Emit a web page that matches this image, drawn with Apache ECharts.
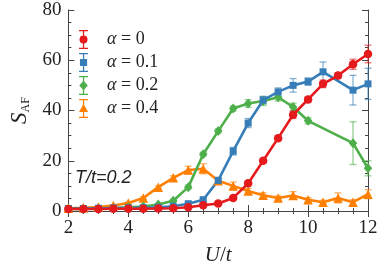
<!DOCTYPE html>
<html><head><meta charset="utf-8">
<script src="https://cdn.jsdelivr.net/npm/echarts@6/dist/echarts.min.js"></script>
<style>html,body{margin:0;padding:0;background:#fff}#c{width:381px;height:271px}</style>
</head><body><div id="c"></div>
<script>
// ---- data ----
const U = [2,2.5,3,3.5,4,4.5,5,5.5,6,6.5,7,7.5,8,8.5,9,9.5,10,10.5,11,11.5,12];
const alphaLabels = ['0','0.1','0.2','0.4'];
const s_a0  = [0.8,0.8,0.8,0.9,0.9,0.9,1.0,1.1,1.5,2.3,3.0,5.2,11.0,20.0,29.0,38.3,44.4,50.6,53.9,58.4,62.5];
const e_a0  = [0.2,0.2,0.2,0.2,0.2,0.2,0.2,0.3,0.3,0.4,0.5,0.6,0.8,0.8,0.8,1.5,1.0,1.5,1.2,2.0,3.5];
const s_a01 = [1.0,1.0,1.1,1.2,1.3,1.3,1.5,1.9,2.9,4.5,12.2,23.8,35.0,44.1,47.4,50.0,51.5,55.4,null,48.1,50.6];
const e_a01 = [0.2,0.2,0.2,0.2,0.2,0.2,0.3,0.3,0.4,0.6,0.8,1.5,1.8,1.5,1.6,2.7,1.5,3.9,null,5.9,6.2];
const s_a02 = [0.8,0.8,1.0,1.1,1.5,1.8,2.6,4.1,9.5,22.6,31.8,40.8,42.8,43.8,45.3,41.4,35.9,null,null,27.0,17.0];
const e_a02 = [0.2,0.2,0.2,0.2,0.2,0.3,0.3,0.5,0.8,0.8,0.8,1.0,1.5,1.8,1.5,1.5,1.2,null,null,8.5,3.0];
const s_a04 = [1.1,1.3,1.6,2.2,3.2,5.2,9.5,13.2,16.3,16.8,12.0,10.0,8.0,6.3,5.2,6.2,4.5,3.5,5.2,3.5,6.7];
const e_a04 = [0.2,0.2,0.2,0.3,0.3,0.5,0.5,0.8,1.5,2.0,0.8,1.5,1.0,1.0,0.8,1.5,0.8,0.8,2.0,1.0,1.8];
const yTicks = [0,20,40,60,80];
const xTicks = [2,4,6,8,10,12];

// ---- styling ----
const colors = ['#e41a1c','#377eb8','#4daf4a','#ff7f00'];
const symbols = ['circle','rect','diamond','triangle'];
const symSizes = [8.5,7,[8.5,10],9.5];
const bar = 'M5.75 1 H14.25 V2.2 H5.75 Z M9.4 1 H10.6 V19 H9.4 Z M5.75 17.8 H14.25 V19 H5.75 Z ';
const icons = [
  'path://' + bar + 'M10 6.2 A3.8 3.8 0 1 1 10 13.8 A3.8 3.8 0 1 1 10 6.2 Z',
  'path://' + bar + 'M6.6 6.6 H13.4 V13.4 H6.6 Z',
  'path://' + bar + 'M10 5.2 L14 10 L10 14.8 L6 10 Z',
  'path://' + bar + 'M10 5.5 L14.3 13.2 L5.7 13.2 Z'
];
const names = alphaLabels.map(a => 'α = ' + a);
const vals = [s_a0, s_a01, s_a02, s_a04];
const errs = [e_a0, e_a01, e_a02, e_a04];

function lineData(v){ const d=[]; U.forEach((u,i)=>{ if(v[i]!=null) d.push([u,v[i]]); }); return d; }
function errData(v,e){ const d=[]; U.forEach((u,i)=>{ if(v[i]!=null && e[i]!=null) d.push([u,v[i]-e[i],v[i]+e[i]]); }); return d; }

function errRender(params, api){
  const x = api.value(0), lo = api.value(1), hi = api.value(2);
  const pLo = api.coord([x, lo]), pHi = api.coord([x, hi]);
  const c = api.visual('color');
  const st = {stroke: c, lineWidth: 1.3, opacity: 0.6};
  return {type:'group', children:[
    {type:'line', shape:{x1:pLo[0],y1:pLo[1],x2:pHi[0],y2:pHi[1]}, style:st},
    {type:'line', shape:{x1:pLo[0]-3.5,y1:pLo[1],x2:pLo[0]+3.5,y2:pLo[1]}, style:st},
    {type:'line', shape:{x1:pHi[0]-3.5,y1:pHi[1],x2:pHi[0]+3.5,y2:pHi[1]}, style:st}
  ]};
}

const series = [];
[3,2,1,0].forEach(k => {
  series.push({
    type:'custom', name:'err'+k, renderItem: errRender, data: errData(vals[k], errs[k]),
    itemStyle:{color: colors[k]}, encode:{x:0, y:[1,2]}, z: 2, silent:true
  });
  series.push({
    type:'line', name: names[k], data: lineData(vals[k]), color: colors[k],
    symbol: symbols[k], symbolSize: symSizes[k], showSymbol:true,
    lineStyle:{width:2.6, color: colors[k]}, itemStyle:{color: colors[k]}, z: 3
  });
});

const axisLineStyle = {color:'#444', width:1};
const labelFont = {fontFamily:'Liberation Serif', fontSize:19, color:'#222'};

const option = {
  animation:false,
  grid:{left:57, right:13, top:10, bottom:54},
  legend:{
    data: names.map((n,i)=>({name:n, icon: icons[i]})),
    orient:'vertical', left:79, top:30, padding:0,
    itemWidth:37, itemHeight:19, itemGap:4, symbolKeepAspect:true,
    textStyle:{fontFamily:'Liberation Serif', fontSize:18, color:'#222', lineHeight:19,
      rich:{i:{fontFamily:'Liberation Serif', fontStyle:'italic', fontSize:18, color:'#222'},
            r:{fontFamily:'Liberation Serif', fontSize:18, color:'#222'}}},
    formatter: n => '{i|α}{r|' + n.slice(1) + '}'
  },
  xAxis:[
    {type:'value', min:xTicks[0], max:xTicks[xTicks.length-1], interval:2, position:'bottom',
     axisLine:{show:true, lineStyle:axisLineStyle},
     axisTick:{show:true, inside:true, length:6, lineStyle:axisLineStyle},
     minorTick:{show:true, splitNumber:4, length:3, lineStyle:axisLineStyle},
     splitLine:{show:false}, axisLabel:Object.assign({margin:8}, labelFont),
     name:'{i|U}{r|/}{i|t}', nameLocation:'middle', nameGap:34,
     nameTextStyle:{rich:{i:{fontFamily:'Liberation Serif', fontStyle:'italic', fontSize:21, color:'#222'},
                          r:{fontFamily:'Liberation Serif', fontSize:21, color:'#222'}}}},
    {type:'value', min:xTicks[0], max:xTicks[xTicks.length-1], interval:2, position:'top',
     axisLine:{show:true, lineStyle:axisLineStyle},
     axisTick:{show:true, inside:true, length:6, lineStyle:axisLineStyle},
     minorTick:{show:true, splitNumber:4, length:3, lineStyle:axisLineStyle},
     splitLine:{show:false}, axisLabel:{show:false}}
  ],
  yAxis:[
    {type:'value', min:yTicks[0], max:yTicks[yTicks.length-1], interval:20, position:'left',
     axisLine:{show:true, lineStyle:axisLineStyle},
     axisTick:{show:true, inside:true, length:6, lineStyle:axisLineStyle},
     minorTick:{show:true, splitNumber:4, length:3, lineStyle:axisLineStyle},
     splitLine:{show:false}, axisLabel:Object.assign({margin:7}, labelFont),
     name:'{s|S}{sub|AF}', nameLocation:'middle', nameGap:35, nameRotate:90,
     nameTextStyle:{rich:{s:{fontFamily:'Liberation Serif', fontStyle:'italic', fontSize:23, color:'#222', lineHeight:24},
                          sub:{fontFamily:'Liberation Serif', fontSize:12, color:'#222', verticalAlign:'bottom', lineHeight:24, padding:[10,0,0,0]}}}},
    {type:'value', min:yTicks[0], max:yTicks[yTicks.length-1], interval:20, position:'right',
     axisLine:{show:true, lineStyle:axisLineStyle},
     axisTick:{show:true, inside:true, length:6, lineStyle:axisLineStyle},
     minorTick:{show:true, splitNumber:4, length:3, lineStyle:axisLineStyle},
     splitLine:{show:false}, axisLabel:{show:false}}
  ],
  graphic:[{type:'text', left:75, top:169, style:{text:'T/t=0.2', fontFamily:'Liberation Sans', fontStyle:'italic', fontSize:18, fill:'#222'}}],
  series: series
};
echarts.init(document.getElementById('c'), null, {renderer:'canvas'}).setOption(option);
</script></body></html>
